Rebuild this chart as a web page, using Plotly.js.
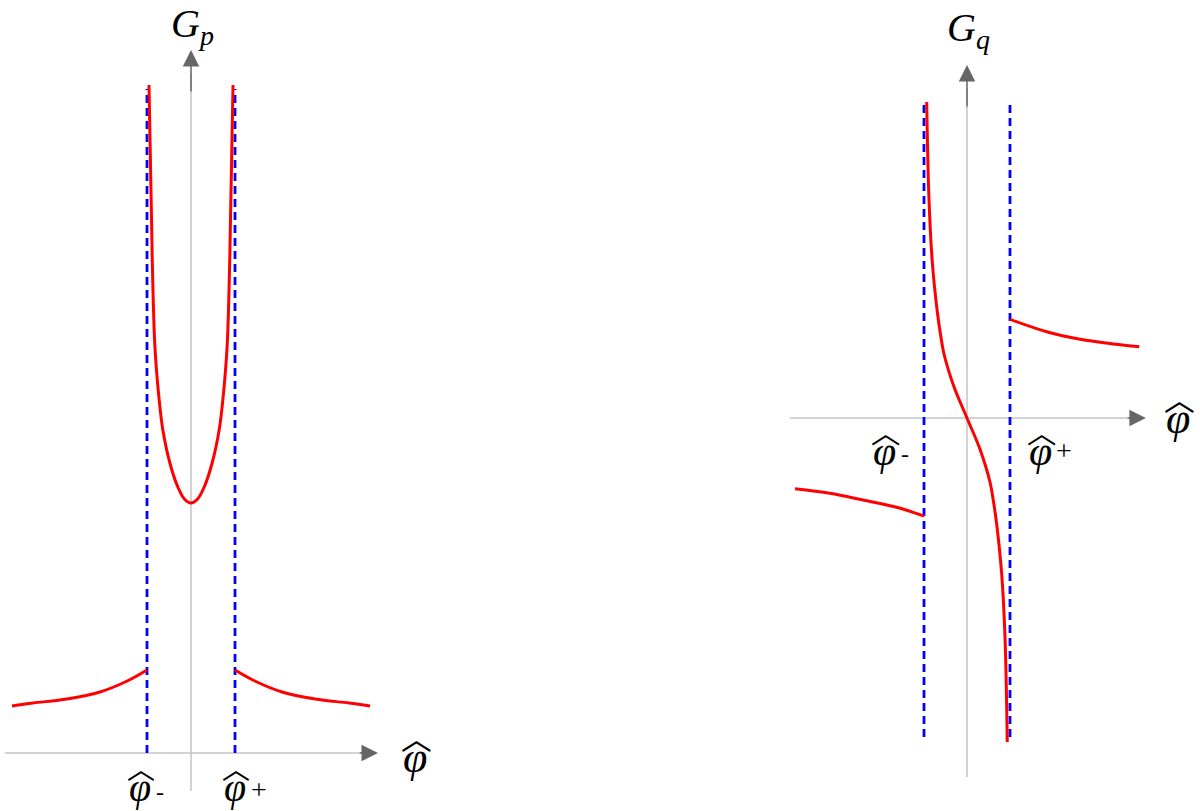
<!DOCTYPE html>
<html>
<head>
<meta charset="utf-8">
<script src="https://cdn.plot.ly/plotly-3.0.1.min.js"></script>
<style>body{margin:0;background:#fff}#chart{width:1200px;height:811px}</style>
</head>
<body>
<div id="chart"></div>
<script>
// left panel: G_p, asymptotes at phi = -1, +1
var gpInnerX = [-0.955, -0.93, -0.90, -0.87, -0.82, -0.73, -0.64, -0.48, -0.30, -0.15, 0, 0.15, 0.30, 0.48, 0.64, 0.73, 0.82, 0.87, 0.90, 0.93, 0.955];
var gpInnerY = [6.68, 6.1, 5.4, 4.73, 4.06, 3.56, 3.23, 2.90, 2.66, 2.54, 2.50, 2.54, 2.66, 2.90, 3.23, 3.56, 4.06, 4.73, 5.4, 6.1, 6.68];
var gpLeftX = [-4.07, -3.59, -2.82, -2.07, -1.45, -1.0];
var gpLeftY = [0.47, 0.50, 0.54, 0.61, 0.72, 0.83];
var gpRightX = [1.0, 1.45, 2.07, 2.82, 3.59, 4.07];
var gpRightY = [0.83, 0.72, 0.61, 0.54, 0.50, 0.47];
var gpDashTop = 6.64;

// right panel: G_q
var gqMidX = [-0.937, -0.884, -0.807, -0.69, -0.61, -0.535, -0.30, 0, 0.30, 0.535, 0.61, 0.69, 0.807, 0.884, 0.937];
var gqMidY = [3.16, 2.19, 1.56, 1.06, 0.82, 0.64, 0.31, 0, -0.31, -0.64, -0.82, -1.06, -1.56, -2.19, -3.24];
var gqLeftX = [-4.0, -3.19, -2.42, -1.635, -1.0];
var gqLeftY = [-0.707, -0.753, -0.82, -0.893, -0.98];
var gqRightX = [1.0, 1.853, 2.63, 3.40, 4.007];
var gqRightY = [0.987, 0.863, 0.787, 0.74, 0.713];
var gqDashTop = 3.14, gqDashBottom = -3.19;

var red = {color: '#ff0000', width: 3};
var blue = {color: '#0000ff', width: 2.8, dash: '8px,5px'};
var axisLine = {color: '#c4c4c4', width: 1.5};

function line(x, y, style, xa, ya, shape) {
  return {x: x, y: y, xaxis: xa, yaxis: ya, mode: 'lines', type: 'scatter',
    line: Object.assign({shape: shape || 'linear'}, style), hoverinfo: 'skip', showlegend: false};
}

var data = [
  // left axes
  line([-4.23, 4.0], [0, 0], axisLine, 'x', 'y'),
  line([0, 0], [-0.38, 6.8], axisLine, 'x', 'y'),
  // left asymptotes and curves
  line([-1, -1], [0, gpDashTop], blue, 'x', 'y'),
  line([1, 1], [0, gpDashTop], blue, 'x', 'y'),
  line(gpInnerX, gpInnerY, red, 'x', 'y', 'spline'),
  line(gpLeftX, gpLeftY, red, 'x', 'y', 'spline'),
  line(gpRightX, gpRightY, red, 'x', 'y', 'spline'),
  // right axes, asymptotes and curves
  line([-4.12, 3.9], [0, 0], axisLine, 'x2', 'y2'),
  line([0, 0], [-3.59, 3.3], axisLine, 'x2', 'y2'),
  line([-1, -1], [gqDashBottom, gqDashTop], blue, 'x2', 'y2'),
  line([1, 1], [gqDashBottom, gqDashTop], blue, 'x2', 'y2'),
  line(gqMidX, gqMidY, red, 'x2', 'y2', 'spline'),
  line(gqLeftX, gqLeftY, red, 'x2', 'y2', 'spline'),
  line(gqRightX, gqRightY, red, 'x2', 'y2', 'spline')
];

function arrow(xr, yr, x, y, ax, ay) {
  return {xref: xr, yref: yr, axref: xr, ayref: yr, x: x, y: y, ax: ax, ay: ay, text: '',
    showarrow: true, arrowhead: 2, arrowsize: 2.2, arrowwidth: 1.5, arrowcolor: '#666666', standoff: 0};
}

var serif = 'Liberation Serif, Times New Roman, serif';
function label(px, py, txt, size, fam) {
  return {xref: 'paper', yref: 'paper', x: px / 1200, y: 1 - py / 811, text: txt, showarrow: false,
    font: {family: fam || serif, size: size, color: '#000'}, xanchor: 'center', yanchor: 'middle'};
}
// phi with a wide hat on top, centred at (px, py) of the letter body
function phiHat(px, py, size) {
  return [
    label(px, py, '<i>φ</i>', size),
    label(px + 1, py - size * 0.5, '︿', size * 0.7, 'Noto Sans CJK SC')
  ];
}

var annotations = [
  arrow('x', 'y', 4.25, 0, 3.8, 0),
  arrow('x', 'y', 0, 7.03, 0, 6.6),
  arrow('x2', 'y2', 4.16, 0, 3.7, 0),
  arrow('x2', 'y2', 0, 3.53, 0, 3.1),
  label(192, 26, '<i>G<sub>p</sub></i>', 40),
  label(968, 30, '<i>G<sub>q</sub></i>', 40),
  label(160, 792, '-', 24),
  label(259, 789, '+', 28),
  label(905, 454, '-', 24),
  label(1064, 451, '+', 28)
].concat(
  phiHat(415, 757, 44),
  phiHat(140, 787, 40),
  phiHat(235, 787, 40),
  phiHat(1178, 418, 44),
  phiHat(884, 451, 42),
  phiHat(1040, 451, 42)
);

var hidden = {visible: false, fixedrange: true};
var layout = {
  width: 1200, height: 811,
  margin: {l: 0, r: 0, t: 0, b: 0},
  paper_bgcolor: '#ffffff', plot_bgcolor: '#ffffff',
  showlegend: false,
  xaxis: Object.assign({domain: [0, 0.4], range: [-4.341, 6.568]}, hidden),
  yaxis: Object.assign({domain: [0, 1], range: [-0.58, 7.53]}, hidden),
  xaxis2: Object.assign({domain: [0.6, 1], range: [-5.744, 5.419], anchor: 'y2'}, hidden),
  yaxis2: Object.assign({domain: [0, 1], range: [-3.93, 4.18], anchor: 'x2'}, hidden),
  annotations: annotations
};

Plotly.newPlot('chart', data, layout, {staticPlot: true});
</script>
</body>
</html>
